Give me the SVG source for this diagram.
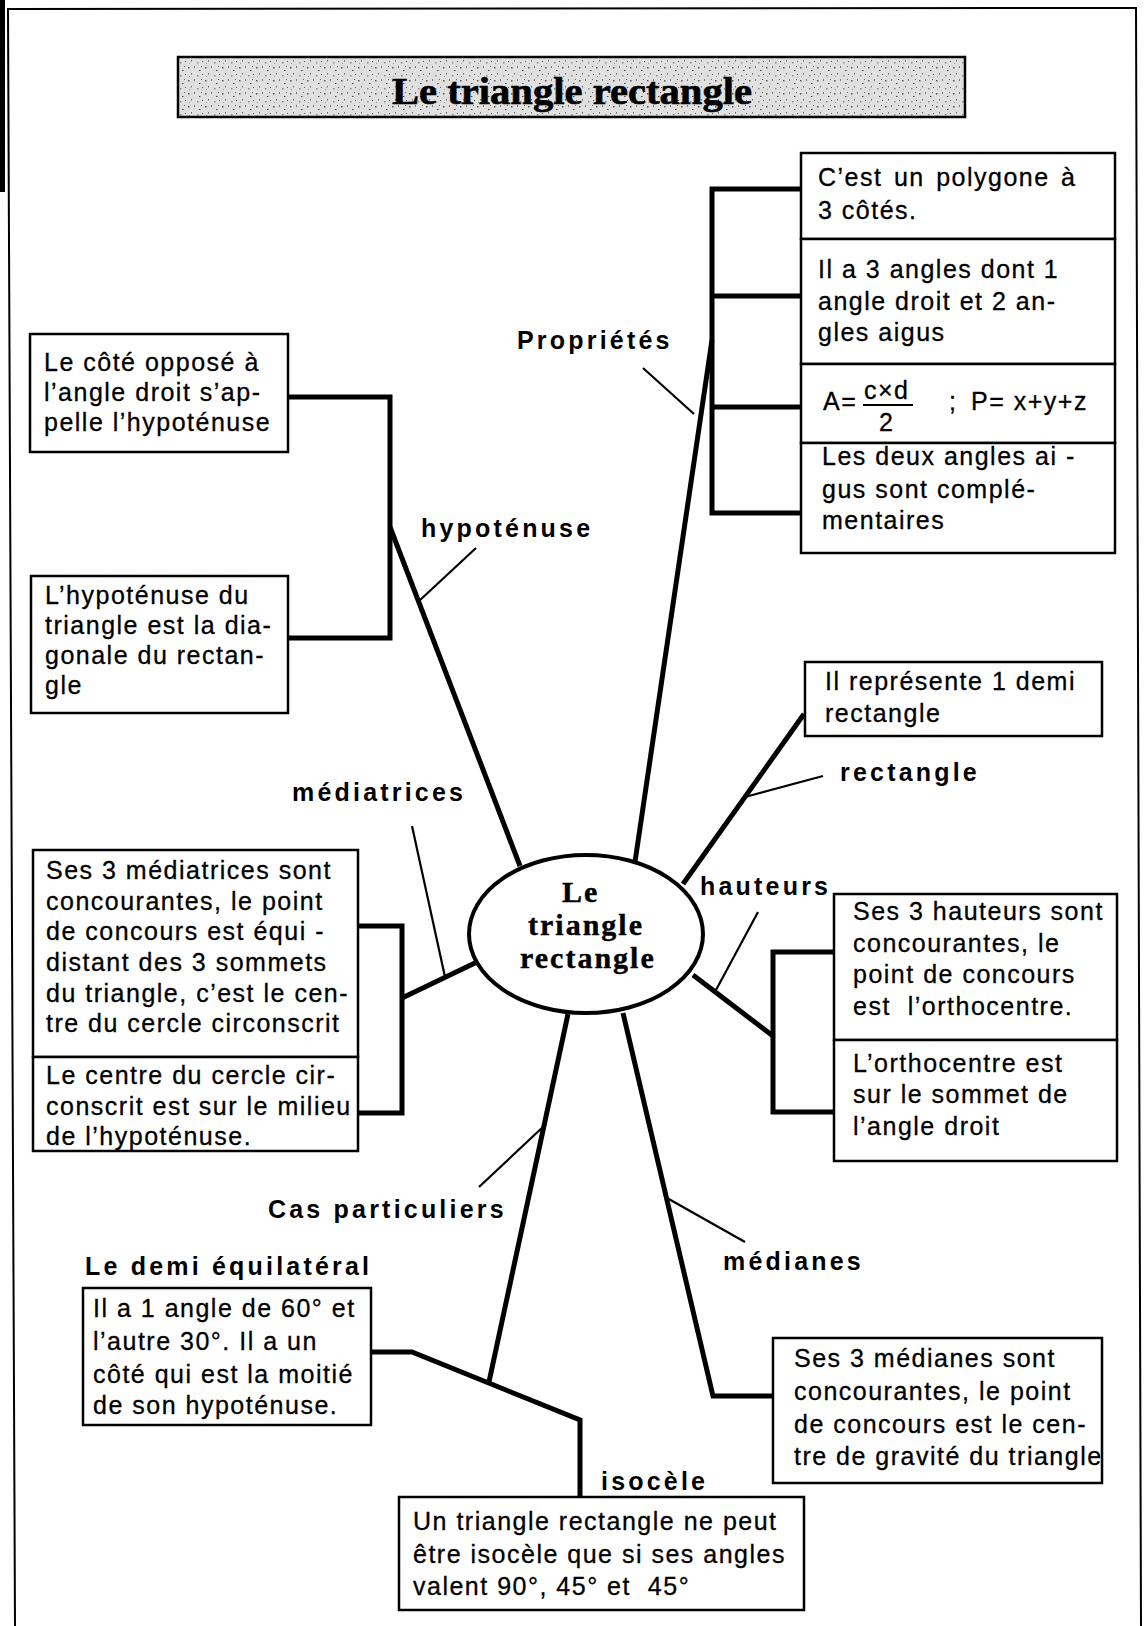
<svg xmlns="http://www.w3.org/2000/svg" width="1146" height="1626" viewBox="0 0 1146 1626">
<defs>
<style>
.box{fill:#fff;stroke:#000;stroke-width:2.5}
.t{font-family:"Liberation Sans",Arial,sans-serif;font-size:25px;letter-spacing:1.5px;fill:#000;stroke:#000;stroke-width:0.3}
.lbl{font-family:"Liberation Sans",Arial,sans-serif;font-weight:bold;font-size:25px;letter-spacing:3.2px;fill:#000}
.serif{font-family:"Liberation Serif","Times New Roman",serif;font-weight:bold;fill:#000}
.trunk{fill:none;stroke:#000;stroke-width:5;stroke-linejoin:miter}
.tick{fill:none;stroke:#000;stroke-width:2.2}
.frame{fill:none;stroke:#000;stroke-width:2}
</style>
<pattern id="stipple" width="17" height="13" patternUnits="userSpaceOnUse">
<rect width="17" height="13" fill="#e0e0e0"/>
<rect x="1" y="2" width="1.5" height="1.5" fill="#555"/>
<rect x="7" y="1" width="1" height="2" fill="#777"/>
<rect x="12" y="5" width="1.5" height="1" fill="#444"/>
<rect x="4" y="8" width="1" height="1.5" fill="#666"/>
<rect x="10" y="10" width="1.5" height="1.5" fill="#888"/>
<rect x="15" y="9" width="1" height="1" fill="#555"/>
<rect x="2" y="11" width="1" height="1" fill="#999"/>
<rect x="14" y="1" width="1" height="1" fill="#666"/>
</pattern>
</defs>

<!-- page frame -->
<g id="frame">
<rect x="0" y="0" width="5" height="192" fill="#000"/>
<polyline class="frame" points="15,1626 8,9 1136,8 1141,1626"/>
</g>

<!-- title -->
<g id="title">
<rect x="178" y="57" width="787" height="60" fill="url(#stipple)" stroke="#000" stroke-width="2.5"/>
<text class="serif" x="392" y="104" font-size="37" stroke="#000" stroke-width="0.6" textLength="360" lengthAdjust="spacingAndGlyphs">Le triangle rectangle</text>
</g>

<!-- connectors -->
<g id="connectors">
<!-- Propriétés -->
<line class="trunk" x1="635" y1="862" x2="712" y2="340"/>
<polyline class="trunk" points="801,189 712,189 712,513 801,513"/>
<line class="trunk" x1="712" y1="296" x2="801" y2="296"/>
<line class="trunk" x1="712" y1="407" x2="801" y2="407"/>
<line class="tick" x1="643" y1="368" x2="694" y2="414"/>
<!-- hypoténuse -->
<polyline class="trunk" points="288,397 390,397 390,638 288,638"/>
<line class="trunk" x1="390" y1="527" x2="520" y2="866"/>
<line class="tick" x1="476" y1="548" x2="419" y2="601"/>
<!-- rectangle -->
<line class="trunk" x1="683" y1="884" x2="804" y2="714"/>
<line class="tick" x1="745" y1="797" x2="823" y2="776"/>
<!-- hauteurs -->
<line class="trunk" x1="693" y1="975" x2="773" y2="1036"/>
<polyline class="trunk" points="834,952 773,952 773,1112 834,1112"/>
<line class="tick" x1="758" y1="912" x2="716" y2="990"/>
<!-- médiatrices -->
<polyline class="trunk" points="358,926 402,926 402,1113 358,1113"/>
<line class="trunk" x1="402" y1="998" x2="477" y2="962"/>
<line class="tick" x1="412" y1="826" x2="445" y2="977"/>
<!-- cas particuliers -->
<line class="trunk" x1="568" y1="1014" x2="489" y2="1382"/>
<polyline class="trunk" points="371,1352 412,1352 580,1420 580,1497"/>
<line class="tick" x1="479" y1="1187" x2="544" y2="1126"/>
<!-- médianes -->
<polyline class="trunk" points="623,1013 713,1396 773,1396"/>
<line class="tick" x1="667" y1="1198" x2="745" y2="1242"/>
</g>

<!-- centre -->
<g id="centre">
<ellipse cx="586" cy="934" rx="117" ry="79" fill="#fff" stroke="#000" stroke-width="4"/>
<text class="serif" font-size="30" letter-spacing="2" stroke="#000" stroke-width="0.4" x="562" y="902">Le</text>
<text class="serif" font-size="30" letter-spacing="2" stroke="#000" stroke-width="0.4" x="528" y="935">triangle</text>
<text class="serif" font-size="30" letter-spacing="2" stroke="#000" stroke-width="0.4" x="520" y="968">rectangle</text>
</g>

<!-- labels -->
<g id="lbl-proprietes"><text class="lbl" x="517" y="349">Propriétés</text></g>
<g id="lbl-hypotenuse"><text class="lbl" x="421" y="537">hypoténuse</text></g>
<g id="lbl-rectangle"><text class="lbl" x="840" y="781">rectangle</text></g>
<g id="lbl-hauteurs"><text class="lbl" x="700" y="895">hauteurs</text></g>
<g id="lbl-mediatrices"><text class="lbl" x="292" y="801">médiatrices</text></g>
<g id="lbl-cas"><text class="lbl" x="268" y="1218">Cas particuliers</text></g>
<g id="lbl-demi"><text class="lbl" x="85" y="1275">Le demi équilatéral</text></g>
<g id="lbl-isocele"><text class="lbl" x="601" y="1490">isocèle</text></g>
<g id="lbl-medianes"><text class="lbl" x="723" y="1270">médianes</text></g>

<!-- propriétés boxes -->
<g id="prop-1">
<rect class="box" x="801" y="153" width="314" height="86"/>
<text class="t" x="818" y="186" word-spacing="3">C’est un polygone à</text>
<text class="t" x="818" y="219">3 côtés.</text>
</g>
<g id="prop-2">
<rect class="box" x="801" y="239" width="314" height="125"/>
<text class="t" x="818" y="278">Il a 3 angles dont 1</text>
<text class="t" x="818" y="310">angle droit et 2 an-</text>
<text class="t" x="818" y="341">gles aigus</text>
</g>
<g id="prop-3">
<rect class="box" x="801" y="364" width="314" height="79"/>
<text class="t" x="823" y="410" letter-spacing="0">A=</text>
<text class="t" x="864" y="399" letter-spacing="0.5">c×d</text>
<line x1="863" y1="405" x2="913" y2="405" stroke="#000" stroke-width="2"/>
<text class="t" x="879" y="431" letter-spacing="0">2</text>
<text class="t" x="949" y="410" letter-spacing="0">;</text>
<text class="t" x="971" y="410" letter-spacing="0.5">P= x+y+z</text>
</g>
<g id="prop-4">
<rect class="box" x="801" y="443" width="314" height="110"/>
<text class="t" x="822" y="465">Les deux angles ai -</text>
<text class="t" x="822" y="498">gus sont complé-</text>
<text class="t" x="822" y="529">mentaires</text>
</g>

<!-- hypoténuse boxes -->
<g id="hyp-1">
<rect class="box" x="30" y="334" width="258" height="118"/>
<text class="t" x="44" y="371">Le côté opposé à</text>
<text class="t" x="44" y="401">l’angle droit s’ap-</text>
<text class="t" x="44" y="431">pelle l’hypoténuse</text>
</g>
<g id="hyp-2">
<rect class="box" x="31" y="576" width="257" height="137"/>
<text class="t" x="45" y="604">L’hypoténuse du</text>
<text class="t" x="45" y="634">triangle est la dia-</text>
<text class="t" x="45" y="664">gonale du rectan-</text>
<text class="t" x="45" y="694">gle</text>
</g>

<!-- rectangle box -->
<g id="rect-1">
<rect class="box" x="805" y="662" width="297" height="74"/>
<text class="t" x="825" y="690">Il représente 1 demi</text>
<text class="t" x="825" y="722">rectangle</text>
</g>

<!-- hauteurs boxes -->
<g id="haut-1">
<rect class="box" x="834" y="894" width="283" height="146"/>
<text class="t" x="853" y="920">Ses 3 hauteurs sont</text>
<text class="t" x="853" y="952">concourantes, le</text>
<text class="t" x="853" y="983">point de concours</text>
<text class="t" x="853" y="1015">est&#160; l’orthocentre.</text>
</g>
<g id="haut-2">
<rect class="box" x="834" y="1040" width="283" height="121"/>
<text class="t" x="853" y="1072">L’orthocentre est</text>
<text class="t" x="853" y="1103">sur le sommet de</text>
<text class="t" x="853" y="1135">l’angle droit</text>
</g>

<!-- médiatrices boxes -->
<g id="med-1">
<rect class="box" x="33" y="850" width="325" height="207"/>
<text class="t" x="46" y="879">Ses 3 médiatrices sont</text>
<text class="t" x="46" y="910">concourantes, le point</text>
<text class="t" x="46" y="940">de concours est équi -</text>
<text class="t" x="46" y="971">distant des 3 sommets</text>
<text class="t" x="46" y="1002">du triangle, c’est le cen-</text>
<text class="t" x="46" y="1032">tre du cercle circonscrit</text>
</g>
<g id="med-2">
<rect class="box" x="33" y="1057" width="325" height="94"/>
<text class="t" x="46" y="1084">Le centre du cercle cir-</text>
<text class="t" x="46" y="1115">conscrit est sur le milieu</text>
<text class="t" x="46" y="1145">de l’hypoténuse.</text>
</g>

<!-- demi équilatéral box -->
<g id="demi-1">
<rect class="box" x="83" y="1288" width="288" height="137"/>
<text class="t" x="93" y="1317">Il a 1 angle de 60° et</text>
<text class="t" x="93" y="1350">l’autre 30°. Il a un</text>
<text class="t" x="93" y="1383">côté qui est la moitié</text>
<text class="t" x="93" y="1414">de son hypoténuse.</text>
</g>

<!-- isocèle box -->
<g id="iso-1">
<rect class="box" x="399" y="1497" width="405" height="113"/>
<text class="t" x="413" y="1530">Un triangle rectangle ne peut</text>
<text class="t" x="413" y="1563">être isocèle que si ses angles</text>
<text class="t" x="413" y="1595">valent 90°, 45° et&#160; 45°</text>
</g>

<!-- médianes box -->
<g id="medianes-1">
<rect class="box" x="773" y="1338" width="329" height="145"/>
<text class="t" x="794" y="1367">Ses 3 médianes sont</text>
<text class="t" x="794" y="1400">concourantes, le point</text>
<text class="t" x="794" y="1433">de concours est le cen-</text>
<text class="t" x="794" y="1465" letter-spacing="1.3">tre de gravité du triangle</text>
</g>
</svg>
